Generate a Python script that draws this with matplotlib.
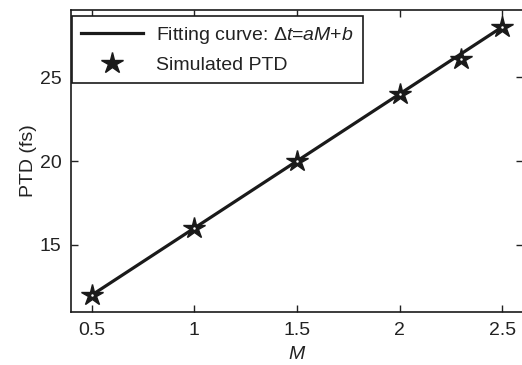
import matplotlib
matplotlib.use('Agg')
import matplotlib.pyplot as plt

plt.rcParams['font.family'] = ['Liberation Sans', 'DejaVu Sans']
plt.rcParams['mathtext.fontset'] = 'custom'
plt.rcParams['mathtext.rm'] = 'Liberation Sans'
plt.rcParams['mathtext.it'] = 'Liberation Sans:italic'

# simulated points
M = [0.5, 1.0, 1.5, 2.0, 2.3, 2.5]
ptd = [12.0, 16.0, 20.0, 24.0, 26.1, 28.0]

# fitting line end points
fit_M = [0.5, 2.5]
fit_ptd = [12.0, 28.0]

xticks = [0.5, 1, 1.5, 2, 2.5]
xticklabels = ['0.5', '1', '1.5', '2', '2.5']
yticks = [15, 20, 25]

fs = 14
fig = plt.figure(figsize=(5.22, 3.65), dpi=100)
ax = fig.add_axes([71 / 522, 1 - 312 / 365, 452 / 522, 302 / 365])

ax.plot(fit_M, fit_ptd, color='#1a1a1a', lw=2.3,
        label=r'Fitting curve: $\Delta t$=$aM$+$b$')
ax.plot(M, ptd, ls='none', marker='*', ms=16, mfc='#1a1a1a', mec='#1a1a1a',
        mew=1, label='Simulated PTD')
# little white dot in the star centres
ax.plot(M, ptd, ls='none', marker='o', ms=1.8, mfc='white', mec='none')

ax.set_xlim(0.4, 2.6)
ax.set_ylim(11, 29)
ax.set_xticks(xticks)
ax.set_xticklabels(xticklabels)
ax.set_yticks(yticks)
ax.tick_params(direction='in', length=5, width=1, top=True, right=True,
               labelsize=fs, pad=7, colors='#222222')
for s in ax.spines.values():
    s.set_linewidth(1.2)
    s.set_color('#1a1a1a')

ax.set_xlabel('$M$', fontsize=fs, labelpad=5, color='#222222')
ax.set_ylabel('PTD (fs)', fontsize=fs, labelpad=2, color='#222222')

leg = ax.legend(loc='upper left', bbox_to_anchor=(0.002, 0.98), borderaxespad=0,
                fontsize=fs, fancybox=False, framealpha=1, edgecolor='#1a1a1a',
                handlelength=3.2, handletextpad=0.7, labelspacing=0.55,
                borderpad=0.45, labelcolor='#222222')
leg.get_frame().set_linewidth(1.2)

fig.savefig('out.png', dpi=100)
